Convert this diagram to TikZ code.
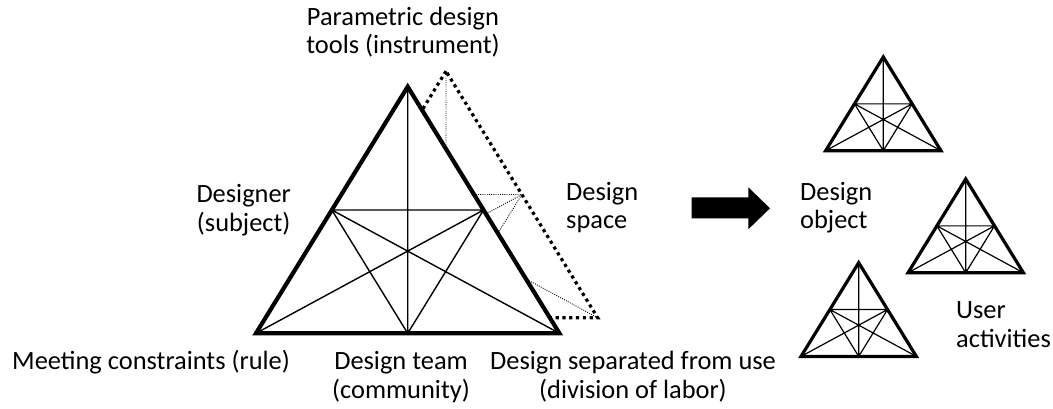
\documentclass[tikz,border=0pt]{standalone}
\usepackage{fontspec}
\setmainfont{Carlito}
\tikzset{
  rim/.style={line width=4.2pt},
  spoke/.style={line width=1.4pt},
  ghost/.style={rim/.style={line width=3.2pt, dash pattern=on 3.2pt off 3.6pt},
                spoke/.style={line width=0.9pt, dash pattern=on 0.9pt off 1.3pt}},
  small/.style={scale=0.38, rim/.style={line width=3.2pt}, spoke/.style={line width=1.2pt}},
  tag/.style={font=\fontsize{26.4}{28.5}\selectfont, inner sep=0pt},
  activity/.pic={
    \coordinate (-A) at (0,0);
    \coordinate (-L) at (-151.7,246.6);
    \coordinate (-R) at (151.7,246.6);
    \coordinate (-ml) at (-75.85,123.3);
    \coordinate (-mr) at (75.85,123.3);
    \coordinate (-mb) at (0,246.6);
    \draw[spoke] (-A) -- (-mb) (-ml) -- (-mr) (-ml) -- (-mb) -- (-mr)
      (-L) -- (-mr) (-R) -- (-ml);
    \draw[rim] (-A) -- (-L) -- (-R) -- cycle;
  }
}

\begin{document}
\begin{tikzpicture}[x=1pt, y=-1pt]
  \useasboundingbox (0,0) rectangle (1053,409);

  \pic (main) at (407.7,86.7) {activity};
  \begin{scope}
    \clip (0,0) -- (1053,0) -- (1053,409) -- (0,409) -- cycle
      (main-A) -- (main-L) -- (main-R) -- cycle;
    \pic[ghost] (space) at (446,71.2) {activity};
  \end{scope}

  \pic[small] (obj) at (883.3,57) {activity};
  \pic[small] (use1) at (965.7,179) {activity};
  \pic[small] (use2) at (858.7,262.7) {activity};

  \fill (691.7,197.3) -- (748.3,197.3) -- (748.3,187.3) -- (770,208.3)
    -- (748.3,229.3) -- (748.3,218.3) -- (691.7,218.3) -- cycle;

  \node[tag, anchor=base, align=center] (instrument) at (403,54) {Parametric design\\tools (instrument)};
  \node[tag, anchor=base, align=center] (subject) at (243.7,231) {Designer\\(subject)};
  \node[tag, anchor=base west, align=left] (dspace) at (566,229) {Design\\space};
  \node[tag, anchor=base west, align=left] (dobject) at (800,229) {Design\\object};
  \node[tag, anchor=base west, align=left] (users) at (956,347) {User\\activities};
  \node[tag, anchor=base west] (rule) at (12,369) {Meeting constraints (rule)};
  \node[tag, anchor=base, align=center] (community) at (401,398) {Design team\\(community)};
  \node[tag, anchor=base, align=center] (division) at (633,398) {Design separated from use\\(division of labor)};
\end{tikzpicture}
\end{document}
